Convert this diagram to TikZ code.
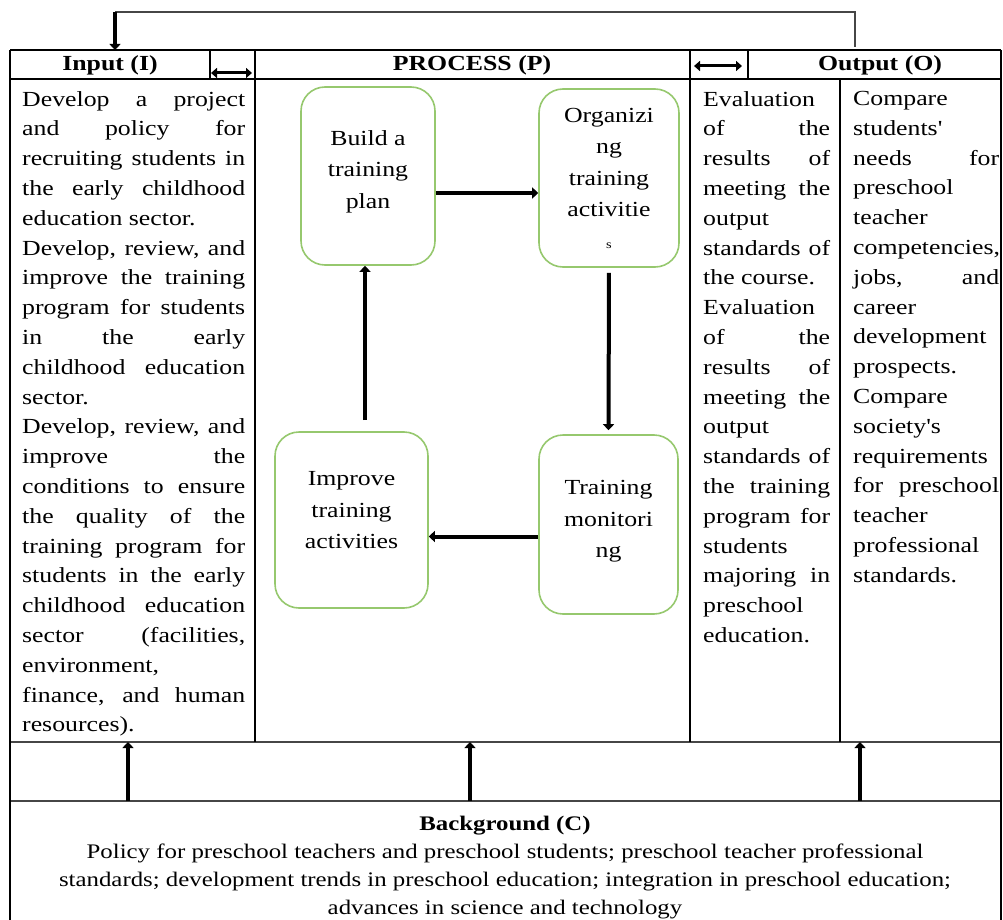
\documentclass[tikz,border=0pt]{standalone}
\usepackage{fontspec}
\setmainfont[FakeStretch=1.2,Ligatures=TeXOff]{Liberation Serif}
\usetikzlibrary{arrows.meta}
\definecolor{stagegreen}{RGB}{150,200,110}
\definecolor{rulegray}{RGB}{70,70,70}
\hyphenpenalty=10000
\exhyphenpenalty=10000
\tolerance=10000
\hbadness=10000
\hfuzz=20pt

\begin{document}
\begin{tikzpicture}[x=1pt,y=-1pt,
    cell/.style={anchor=north west,inner sep=0pt,align=justify,font=\fontsize{21.5}{29.8}\selectfont},
    head/.style={inner sep=0pt,font=\fontsize{21.5}{26}\selectfont\bfseries},
    stage/.style={draw=stagegreen,line width=1.6pt,rounded corners=24pt,align=center,inner sep=2pt,font=\fontsize{21.5}{31.5}\selectfont},
    flow/.style={line width=4pt,-{Triangle[length=6pt,width=11pt]}},
    swap/.style={line width=3pt,{Triangle[length=6pt,width=10pt]}-{Triangle[length=6pt,width=10pt]}}]
    \useasboundingbox (0,0) rectangle (1003,920);

    \draw[line width=1.2pt] (10,50) -- (1001,50);
    \draw[line width=1.2pt] (10,79) -- (1001,79);
    \draw[line width=1.8pt, rulegray] (10,742) -- (1001,742);
    \draw[line width=1.8pt, rulegray] (10,801) -- (1001,801);
    \draw[line width=1.2pt] (10,50) -- (10,920);
    \draw[line width=1.2pt] (1001,50) -- (1001,920);
    \draw[line width=1.2pt] (210,50) -- (210,79);
    \draw[line width=1.2pt] (255,50) -- (255,742);
    \draw[line width=1.2pt] (690,50) -- (690,742);
    \draw[line width=1.2pt] (748,50) -- (748,79);
    \draw[line width=1.2pt] (840,79) -- (840,742);

    \node[head] (input) at (110,65) {Input (I)};
    \node[head] (process) at (472,65) {PROCESS (P)};
    \node[head] (output) at (880,65) {Output (O)};

    \coordinate (inswapL) at (211,73);
    \coordinate (inswapR) at (252,73);
    \coordinate (outswapL) at (694,66);
    \coordinate (outswapR) at (742,66);
    \draw[swap] (inswapL) -- (inswapR);
    \draw[swap] (outswapL) -- (outswapR);

    \coordinate (outtop) at (855,47);
    \coordinate (fbk) at (115,12);
    \coordinate (intop) at (115,50);
    \draw[line width=1.3pt, rulegray] (outtop) |- (fbk);
    \draw[flow, line width=4.5pt] (fbk) -- (intop);

    \node[cell, text width=223pt] (inputtext) at (22,91) {Develop a project\linebreak
        and policy for\linebreak
        recruiting students in\linebreak
        the early childhood\linebreak
        education sector.\par
        Develop, review, and\linebreak
        improve the training\linebreak
        program for students\linebreak
        in the early\linebreak
        childhood education\linebreak
        sector.\par
        Develop, review, and\linebreak
        improve the\linebreak
        conditions to ensure\linebreak
        the quality of the\linebreak
        training program for\linebreak
        students in the early\linebreak
        childhood education\linebreak
        sector (facilities,\linebreak
        environment,\linebreak
        finance, and human\linebreak
        resources).};

    \node[cell, text width=127pt] (evaltext) at (703,91) {Evaluation\linebreak
        of the\linebreak
        results of\linebreak
        meeting the\linebreak
        output\linebreak
        standards of\linebreak
        the course.\par
        Evaluation\linebreak
        of the\linebreak
        results of\linebreak
        meeting the\linebreak
        output\linebreak
        standards of\linebreak
        the training\linebreak
        program for\linebreak
        students\linebreak
        majoring in\linebreak
        preschool\linebreak
        education.};

    \node[cell, text width=146pt] (comparetext) at (853,91) {Compare\linebreak
        students'\linebreak
        needs for\linebreak
        preschool\linebreak
        teacher\linebreak
        competencies,\linebreak
        jobs, and\linebreak
        career\linebreak
        development\linebreak
        prospects.\par
        Compare\linebreak
        society's\linebreak
        requirements\linebreak
        for preschool\linebreak
        teacher\linebreak
        professional\linebreak
        standards.};

    \node[stage, minimum width=134pt, minimum height=178pt, text depth=13pt] (build) at (368,176) {Build a\\training\\plan};
    \node[stage, minimum width=140pt, minimum height=178pt] (organize) at (609,178) {Organizi\\ng\\training\\activitie\\{\fontsize{12}{12}\selectfont s}};
    \node[stage, minimum width=139pt, minimum height=179pt, text depth=11pt] (monitor) at (608.5,524.5) {Training\\monitori\\ng};
    \node[stage, minimum width=153pt, minimum height=176pt, text depth=20pt] (improve) at (351.5,520) {Improve\\training\\activities};

    \draw[flow] ([yshift=-17pt]build.east) -- ([yshift=-17pt]build.east -| organize.west);
    \draw[flow, shorten <=5pt, shorten >=4pt] (organize.south) -- (monitor.north);
    \draw[flow] ([yshift=-12pt]monitor.west) -- ([yshift=-12pt]monitor.west -| improve.east);
    \draw[flow, shorten <=11pt] ([xshift=-3pt]build.south |- improve.north) -- ([xshift=-3pt]build.south);

    \node[align=center, inner sep=0pt, font=\fontsize{20.7}{28}\selectfont] (background) at (505,868) {\textbf{Background (C)}\\
        Policy for preschool teachers and preschool students; preschool teacher professional\\
        standards; development trends in preschool education; integration in preschool education;\\
        advances in science and technology};

    \coordinate (ctxA) at (128,801);
    \coordinate (ctxB) at (470,801);
    \coordinate (ctxC) at (860,801);
    \draw[flow, line width=3.5pt] (ctxA) -- (ctxA |- 0,742);
    \draw[flow, line width=3.5pt] (ctxB) -- (ctxB |- 0,742);
    \draw[flow, line width=3.5pt] (ctxC) -- (ctxC |- 0,742);
\end{tikzpicture}
\end{document}
